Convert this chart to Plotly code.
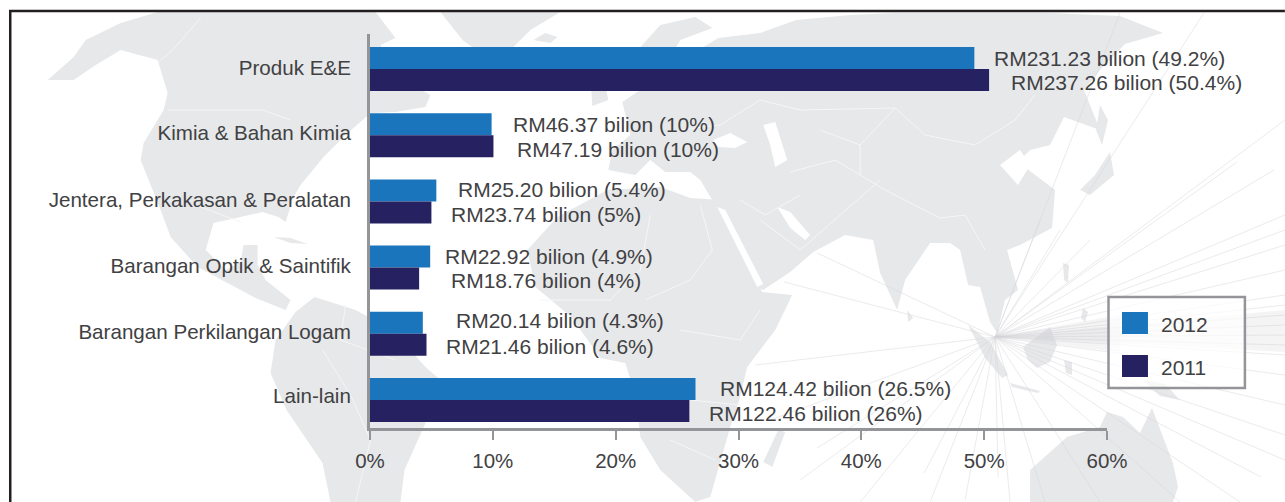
import plotly.graph_objects as go

W, H = 1285, 502
ML, MR, MT, MB = 369.5, 178, 34, 74

categories = ["Produk E&E", "Kimia & Bahan Kimia", "Jentera, Perkakasan & Peralatan",
              "Barangan Optik & Saintifik", "Barangan Perkilangan Logam", "Lain-lain"]
share_2012 = [49.2, 9.9, 5.4, 4.9, 4.3, 26.5]
share_2011 = [50.4, 10.05, 5.0, 4.0, 4.6, 26.0]
labels_2012 = ["RM231.23 bilion (49.2%)", "RM46.37 bilion (10%)", "RM25.20 bilion (5.4%)",
               "RM22.92 bilion (4.9%)", "RM20.14 bilion (4.3%)", "RM124.42 bilion (26.5%)"]
labels_2011 = ["RM237.26 bilion (50.4%)", "RM47.19 bilion (10%)", "RM23.74 bilion (5%)",
               "RM18.76 bilion (4%)", "RM21.46 bilion (4.6%)", "RM122.46 bilion (26%)"]

# label layout, separate from the data
shift_2012 = [18, 19, 20, 13, 31, 22]
shift_2011 = [20, 22, 18, 30, 17, 18]
yshift_2012 = [0, 0, 1, 0, 2, 1]
yshift_2011 = [-2, -3, -2, -2, -2, -2]
tick_pos = [-0.02, 0.97, 1.98, 2.98, 3.97, 4.94]

C_BLUE, C_NAVY, C_AXIS, C_TEXT, C_MAP = "#1a75bc", "#262262", "#939598", "#414143", "#e7e8ea"
FONT = "Liberation Sans"


def px(x):
    return (x - ML) / (W - ML - MR)


def py(y):
    return 1 - (y - MT) / (H - MT - MB)


def poly(points, fill=C_MAP):
    d = "M " + " L ".join(f"{px(x):.5f},{py(y):.5f}" for x, y in points) + " Z"
    return dict(type="path", path=d, xref="paper", yref="paper", fillcolor=fill,
                line=dict(width=0), layer="below")


def seg(points, color="#f6f6f7", width=1):
    d = "M " + " L ".join(f"{px(x):.5f},{py(y):.5f}" for x, y in points)
    return dict(type="path", path=d, xref="paper", yref="paper",
                line=dict(color=color, width=width), layer="below")


# decorative backdrop map (rough outlines, in page pixels)
land = [
    # North America
    [(47, 80), (73, 57), (85, 40), (120, 23), (157, 12), (375, 12), (395, 38), (380, 45), (395, 75),
     (430, 95), (425, 107), (395, 112), (370, 113), (345, 135), (323, 157), (300, 185), (293, 197),
     (285, 222), (278, 217), (262, 212), (213, 223), (205, 250), (225, 270), (240, 262), (243, 245),
     (257, 245), (257, 265), (265, 280), (290, 300), (285, 310), (255, 298), (225, 282), (197, 267),
     (170, 237), (160, 210), (140, 160), (143, 143), (163, 110), (167, 93), (157, 60), (120, 50),
     (95, 65), (73, 80)],
    # Cuba
    [(273, 237), (290, 238), (307, 244), (290, 243)],
    # Greenland
    [(440, 12), (560, 12), (530, 30), (510, 50), (490, 60), (462, 40)],
    # Iceland
    [(533, 40), (545, 33), (557, 37), (550, 43)],
    # UK
    [(590, 78), (602, 72), (608, 100), (592, 106)],
    # South America
    [(314, 297), (355, 310), (392, 330), (425, 367), (440, 380), (425, 423), (404, 470), (400, 502),
     (330, 502), (322, 463), (286, 410), (270, 373), (275, 340), (295, 312)],
    # Scandinavia
    [(633, 55), (660, 25), (695, 17), (712, 28), (680, 40), (665, 65), (645, 72)],
    # Eurasia
    [(608, 170), (612, 150), (630, 135), (622, 102), (655, 80), (690, 55), (718, 38), (760, 33), (796, 20),
     (850, 15), (895, 13), (1000, 13), (1050, 13), (1120, 16), (1163, 33), (1125, 44), (1100, 70),
     (1084, 90), (1100, 130), (1064, 117), (1050, 145), (1030, 150), (1018, 162), (1055, 190),
     (1052, 228), (1020, 245), (1007, 250), (1018, 290), (1005, 300), (997, 333), (990, 322), (980, 287),
     (968, 285), (960, 250), (950, 243), (930, 243), (905, 280), (897, 310), (880, 273), (873, 240),
     (845, 235), (813, 252), (790, 272), (763, 290), (752, 285), (725, 215), (712, 200), (700, 180),
     (690, 172), (665, 172), (650, 160), (635, 175)],
    # Africa
    [(527, 250), (557, 217), (607, 190), (660, 187), (690, 198), (722, 200), (745, 260), (762, 292), (792, 295),
     (775, 330), (747, 367), (739, 400), (730, 427), (710, 497), (695, 502), (660, 470), (640, 437),
     (635, 395), (625, 363), (600, 358), (571, 317), (535, 287)],
    # Madagascar
    [(778, 430), (785, 432), (772, 467), (763, 462)],
    # Japan
    [(1110, 152), (1114, 175), (1090, 195), (1080, 190), (1095, 175)],
    # Sakhalin
    [(1100, 105), (1108, 120), (1102, 145), (1096, 130)],
    # Sri Lanka
    [(907, 310), (913, 318), (908, 322)],
    # Sumatra
    [(968, 325), (990, 342), (1008, 375), (1002, 378), (985, 358)],
    # Borneo
    [(1023, 347), (1050, 327), (1057, 345), (1050, 362), (1037, 368), (1028, 360)],
    # Java
    [(1010, 383), (1040, 391), (1038, 393), (1012, 387)],
    # Sulawesi
    [(1064, 360), (1072, 362), (1072, 375), (1066, 373)],
    # Philippines
    [(1063, 263), (1069, 265), (1068, 283), (1064, 280)],
    [(1083, 308), (1088, 312), (1085, 322), (1081, 318)],
    # New Guinea
    [(1143, 380), (1165, 384), (1180, 400), (1160, 396)],
    # Australia
    [(1030, 502), (1030, 470), (1067, 437), (1100, 427), (1107, 412), (1123, 417), (1140, 433),
     (1152, 408), (1173, 463), (1178, 487), (1173, 502)],
]

seas = [
    [(713, 140), (730, 133), (747, 142), (735, 148), (718, 147)],          # Black Sea
    [(763, 125), (775, 122), (787, 160), (775, 167), (770, 145)],          # Caspian
    [(717, 207), (725, 210), (763, 284), (757, 287)],                      # Red Sea
    [(777, 207), (790, 212), (810, 235), (805, 240), (790, 228)],          # Persian Gulf
    [(1000, 165), (1020, 150), (1030, 165), (1018, 185)],                  # Yellow Sea
]

borders = [
    [(200, 18), (172, 50), (158, 62)],
    [(167, 110), (262, 110), (290, 120)],
    [(195, 205), (240, 222)],
    [(322, 350), (350, 395), (370, 440), (355, 502)],
    [(345, 305), (340, 340), (395, 360)],
    [(540, 300), (610, 300), (640, 270), (650, 215)],
    [(645, 300), (690, 280), (712, 250), (700, 205)],
    [(680, 330), (740, 340), (760, 310)],
    [(690, 400), (740, 405)],
    [(670, 440), (715, 460)],
    [(760, 220), (800, 250), (840, 215), (880, 180)],
    [(760, 100), (800, 110), (895, 108), (925, 135), (975, 145), (1015, 120), (1035, 95)],
    [(895, 108), (860, 145), (860, 175), (885, 190), (940, 218), (965, 215), (985, 250)],
    [(820, 130), (860, 145)],
    [(680, 130), (720, 125), (760, 100)],
    [(790, 172), (835, 160), (860, 175)],
    [(740, 200), (765, 215), (800, 195)],
]

centre = (995, 337)
ray_ends = [(817, 253), (784, 282), (755, 365), (817, 448), (924, 473), (998, 477), (965, 500),
            (1261, 477), (1204, 13), (1237, 162), (1274, 170), (1285, 215), (1285, 230), (1285, 245),
            (1285, 270), (1285, 295), (1285, 305), (1285, 315), (1285, 325), (1285, 335), (1285, 345),
            (1285, 355), (1285, 375), (1285, 405), (1285, 435), (1285, 460), (1240, 502), (1180, 502),
            (1100, 502), (1045, 502), (1010, 502), (1120, 13), (1285, 120), (770, 420), (800, 480),
            (860, 502), (930, 502), (1060, 230), (1090, 240), (1040, 220)]
fan_ends = [[(1120, 315), (1120, 352)], [(1285, 310), (1285, 352)]]

shapes = []
shapes += [poly(p) for p in land]
shapes += [poly(p, "white") for p in seas]
shapes += [seg(b) for b in borders]
shapes += [seg([centre, e], color="rgba(215,216,219,0.5)") for e in ray_ends]
shapes += [poly([centre, a, b], "rgba(205,206,210,0.22)") for a, b in fan_ends]

# frame
frame = seg([(9.5, 502), (9.5, 11), (1285, 11)], color="#231f20", width=2.5)
frame["layer"] = "above"
shapes.append(frame)

# legend box
LEG_SWATCH = [((1122, 312), (1148, 334), C_BLUE), ((1122, 355), (1148, 377), C_NAVY)]
shapes.append(dict(type="rect", xref="paper", yref="paper", x0=px(1108.5), x1=px(1245), y0=py(297), y1=py(388),
                   line=dict(color=C_AXIS, width=2.5), fillcolor="rgba(255,255,255,0.7)", layer="above"))
for (a, b, c) in LEG_SWATCH:
    shapes.append(dict(type="rect", xref="paper", yref="paper", x0=px(a[0]), x1=px(b[0]), y0=py(a[1]), y1=py(b[1]),
                       line=dict(width=0), fillcolor=c, layer="above"))

fig = go.Figure()
fig.add_bar(name="2012", y=categories, x=share_2012, orientation="h", marker_color=C_BLUE, marker_line_width=0)
fig.add_bar(name="2011", y=categories, x=share_2011, orientation="h", marker_color=C_NAVY, marker_line_width=0)

annotations = []
for i, c in enumerate(categories):
    annotations.append(dict(x=share_2012[i], y=c, yref="y", xref="x", text=labels_2012[i], showarrow=False,
                            xanchor="left", xshift=shift_2012[i], yshift=11 + yshift_2012[i]))
    annotations.append(dict(x=share_2011[i], y=c, yref="y", xref="x", text=labels_2011[i], showarrow=False,
                            xanchor="left", xshift=shift_2011[i], yshift=-11 + yshift_2011[i]))
for name, yy in (("2012", 324), ("2011", 367)):
    annotations.append(dict(x=px(1159), y=py(yy), xref="paper", yref="paper", text=name, showarrow=False,
                            xanchor="left", yanchor="middle"))

fig.update_layout(
    width=W, height=H, autosize=False,
    margin=dict(l=ML, r=MR, t=MT, b=MB, pad=0),
    barmode="group", bargap=0.335, bargroupgap=0,
    showlegend=False,
    paper_bgcolor="white", plot_bgcolor="rgba(0,0,0,0)",
    font=dict(family=FONT, size=21, color=C_TEXT),
    shapes=shapes, annotations=annotations,
    xaxis=dict(range=[0, 60], dtick=10, ticksuffix="%", showgrid=False, zeroline=False,
               showline=True, linecolor=C_AXIS, linewidth=3, ticks="outside", ticklen=9, tickwidth=2,
               tickcolor=C_AXIS, ticklabelstandoff=3, tickfont=dict(size=20.5, color=C_TEXT)),
    yaxis=dict(type="category", categoryorder="array", categoryarray=categories,
               tickmode="array", tickvals=tick_pos, ticktext=categories,
               range=[5.423, -0.529], showgrid=False, zeroline=False, showline=True, linecolor=C_AXIS,
               linewidth=3, ticks="", ticklabelstandoff=12, tickfont=dict(size=20.6, color=C_TEXT)),
)

fig.write_html("out.html", config={"displayModeBar": False},
               post_script="document.body.style.margin='0';document.body.style.overflow='hidden';")
